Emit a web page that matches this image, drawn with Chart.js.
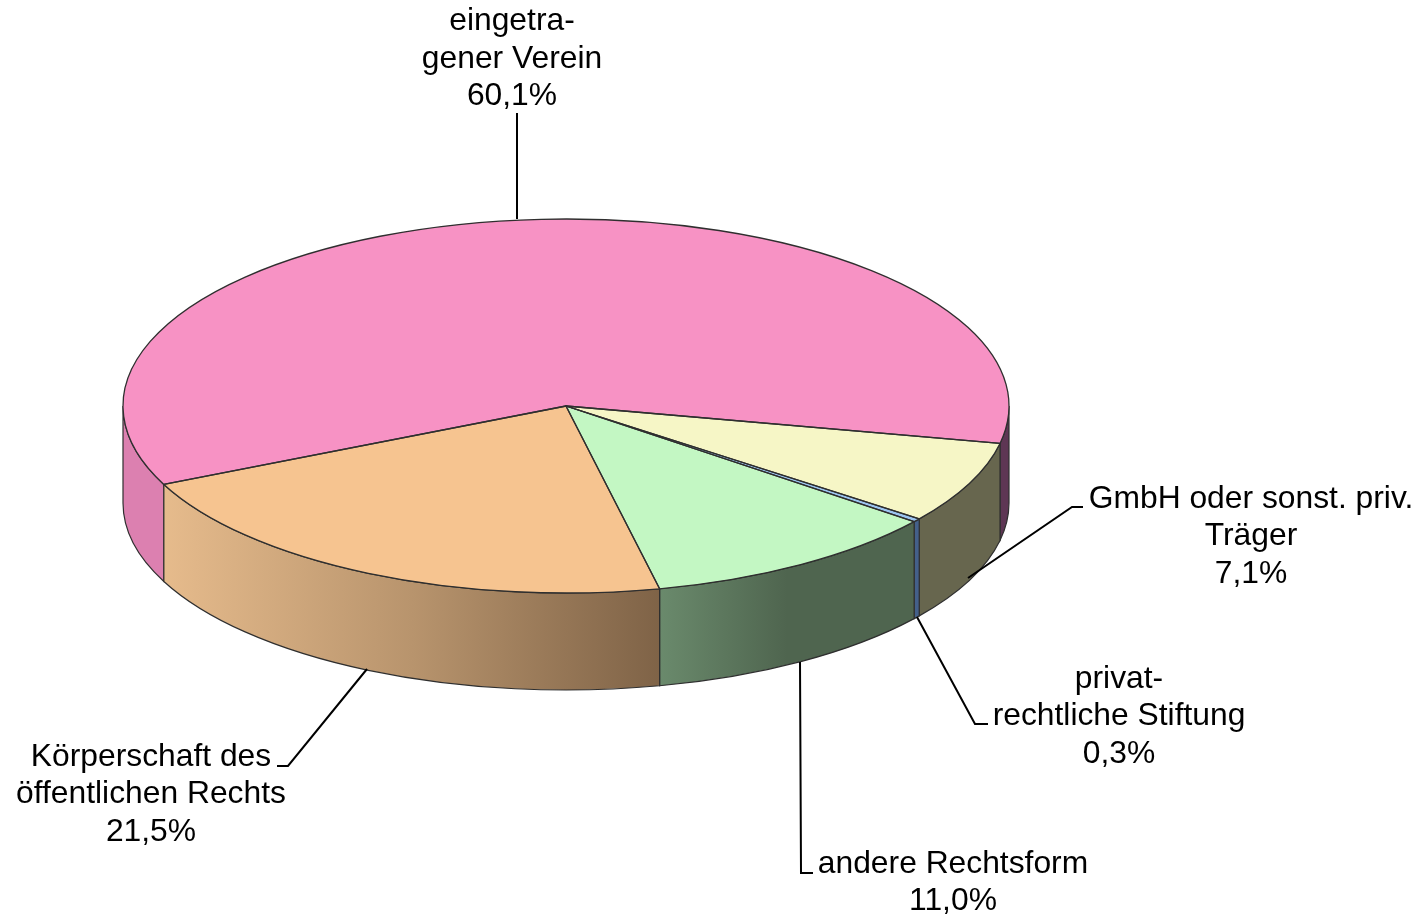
<!DOCTYPE html>
<html lang="de">
<head>
<meta charset="utf-8">
<title>Rechtsform der Träger</title>
<script src="https://cdn.jsdelivr.net/npm/chart.js@4"></script>
<style>
    html, body { margin: 0; padding: 0; background: #fff; overflow: hidden; }
    canvas { display: block; }
</style>
</head>
<body>
<canvas id="pieCanvas" width="1422" height="918"></canvas>
<script>
// Chart data
const categories = [
    ['eingetra-', 'gener Verein'],
    ['GmbH oder sonst. priv.', 'Träger'],
    ['privat-', 'rechtliche Stiftung'],
    ['andere Rechtsform'],
    ['Körperschaft des', 'öffentlichen Rechts']
];
const shares = [60.1, 7.1, 0.3, 11.0, 21.5];

// Slice colours, one wall entry for each visible piece of the slice side
const topColors = ['#f792c4', '#f6f6c6', '#9cc4f0', '#c3f7c3', '#f6c490'];
const wallColors = [
    [['#dc80b0'], ['#5e3654']],
    [['#67664e']],
    [['#44608a']],
    [['#6a8a6c', '#4f654f', '#4f654f']],
    [['#e6bb8c', '#b8946d', '#7f6347']]
];

// Layout of the squashed pie and its labels
const pieCenter = { x: 566, y: 406 };
const pieRadius = { x: 443, y: 187 };
const pieDepth = 97;
const labelFont = '31.8px "Liberation Sans", Arial, sans-serif';
const lineHeight = 37.5;
const labelAnchors = [
    { x: 512, y: 21.5 },
    { x: 1251, y: 499 },
    { x: 1119, y: 679 },
    { x: 953, y: 864 },
    { x: 151, y: 757 }
];
const leaderLines = [
    [[517, 113], [517, 219]],
    [[1083, 507], [1072, 507], [968, 578]],
    [[917, 617], [975, 724], [988, 724]],
    [[800, 662], [801, 873], [813, 873]],
    [[367, 669], [288, 766], [277, 766]]
];

function visiblePieces(start, end) {
    // The side only shows where the angle is in the lower half of the ellipse
    const pieces = [];
    for (let k = 0; k < 2; k++) {
        const from = Math.max(start, k * 2 * Math.PI);
        const to = Math.min(end, k * 2 * Math.PI + Math.PI);
        if (to > from) pieces.push([from, to]);
    }
    return pieces;
}

function edgeX(angle) {
    return pieCenter.x + pieRadius.x * Math.cos(angle);
}

function drawWalls(ctx, arcs) {
    arcs.forEach((arc, index) => {
        visiblePieces(arc.startAngle, arc.endAngle).forEach((piece, pieceIndex) => {
            const [from, to] = piece;
            const stops = wallColors[index][pieceIndex];
            const fill = ctx.createLinearGradient(edgeX(to), 0, edgeX(from), 0);
            stops.forEach((color, i) => {
                fill.addColorStop(stops.length > 1 ? i / (stops.length - 1) : 0, color);
            });
            ctx.beginPath();
            ctx.ellipse(pieCenter.x, pieCenter.y, pieRadius.x, pieRadius.y, 0, from, to);
            ctx.ellipse(pieCenter.x, pieCenter.y + pieDepth, pieRadius.x, pieRadius.y, 0, to, from, true);
            ctx.closePath();
            ctx.fillStyle = fill;
            ctx.fill();
            ctx.strokeStyle = '#2f2f2f';
            ctx.lineWidth = 1.2;
            ctx.stroke();
        });
    });
}

function drawOutlines(ctx, arcs) {
    ctx.strokeStyle = '#2f2f2f';
    ctx.lineWidth = 1.3;
    ctx.lineJoin = 'round';
    arcs.forEach(arc => {
        ctx.beginPath();
        ctx.moveTo(pieCenter.x, pieCenter.y);
        ctx.ellipse(pieCenter.x, pieCenter.y, pieRadius.x, pieRadius.y, 0, arc.startAngle, arc.endAngle);
        ctx.closePath();
        ctx.stroke();
    });
}

function drawLabels(ctx) {
    ctx.strokeStyle = '#000';
    ctx.lineWidth = 2;
    ctx.lineJoin = 'miter';
    leaderLines.forEach(points => {
        ctx.beginPath();
        points.forEach((p, i) => (i === 0 ? ctx.moveTo(p[0], p[1]) : ctx.lineTo(p[0], p[1])));
        ctx.stroke();
    });

    ctx.fillStyle = '#000';
    ctx.font = labelFont;
    ctx.textAlign = 'center';
    ctx.textBaseline = 'middle';
    categories.forEach((lines, index) => {
        const percent = shares[index].toFixed(1).replace('.', ',') + '%';
        [...lines, percent].forEach((text, i) => {
            ctx.fillText(text, labelAnchors[index].x, labelAnchors[index].y + i * lineHeight);
        });
    });
}

// Squashes the pie into an ellipse and adds the side walls
const tiltedPie = {
    id: 'tiltedPie',
    beforeDatasetsDraw(chart) {
        const ctx = chart.ctx;
        const arcs = chart.getDatasetMeta(0).data;
        drawWalls(ctx, arcs);
        const { x, y, outerRadius } = arcs[0];
        ctx.save();
        ctx.translate(pieCenter.x, pieCenter.y);
        ctx.scale(pieRadius.x / outerRadius, pieRadius.y / outerRadius);
        ctx.translate(-x, -y);
    },
    afterDatasetsDraw(chart) {
        const ctx = chart.ctx;
        ctx.restore();
        ctx.save();
        drawOutlines(ctx, chart.getDatasetMeta(0).data);
        drawLabels(ctx);
        ctx.restore();
    }
};

new Chart(document.getElementById('pieCanvas'), {
    type: 'pie',
    data: {
        labels: categories.map(lines => lines.join(' ')),
        datasets: [{
            data: shares,
            backgroundColor: topColors,
            borderWidth: 0
        }]
    },
    options: {
        responsive: false,
        animation: false,
        rotation: 245.2,
        plugins: {
            legend: { display: false },
            tooltip: { enabled: false }
        }
    },
    plugins: [tiltedPie]
});
</script>
</body>
</html>
